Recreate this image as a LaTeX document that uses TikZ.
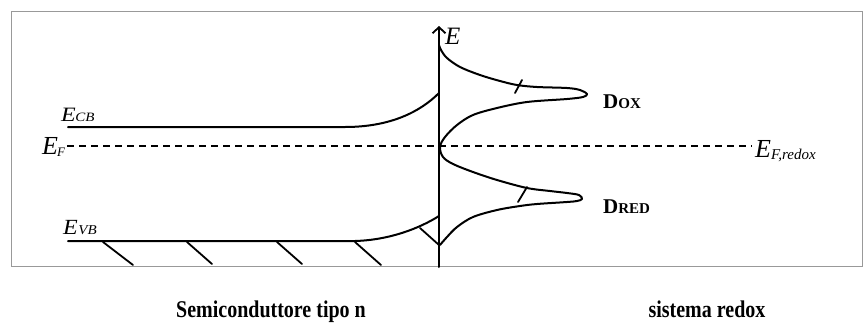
\documentclass[tikz,border=0pt]{standalone}
\usepackage{fontspec}
\usepackage{graphicx}
\setmainfont{Liberation Serif}
\usetikzlibrary{arrows.meta}
\begin{document}
\begin{tikzpicture}[x=1pt,y=-1pt,
  curve/.style={line width=2pt, line join=round, line cap=round},
  frame/.style={draw=black!40, line width=0.9pt},
  hatch/.style={line width=1.8pt, line cap=round},
  fermi/.style={line width=1.9pt, dash pattern=on 7pt off 5pt},
  lbl/.style={inner sep=0pt, anchor=base west},
  title/.style={inner sep=0pt, anchor=base},
  ]
\useasboundingbox (0,0) rectangle (863,322);
\draw[frame] (11,11) rectangle (862,266);

% energy axis
\coordinate (axB) at (439,267);
\coordinate (axT) at (439,26);
\draw[curve, -{Straight Barb[length=6pt,width=13pt,line width=1.8pt]}] (axB) -- (axT);
\node[lbl] (Eax) at (445,44) {\fontsize{25}{25}\selectfont\itshape E};

% conduction band
\coordinate (cbL) at (68,127);
\coordinate (cbK) at (345,127);
\coordinate (cbA) at (439,93);
\draw[curve] (cbL) -- (cbK) .. controls (390,127) and (420,112) .. (cbA);
\node[lbl] (ecb) at (61,121) {\scalebox{1}[0.85]{\fontsize{24}{24}\selectfont\itshape E\kern-0.5pt\raisebox{-1pt}{\fontsize{15}{15}\selectfont CB}}};

% valence band
\coordinate (vbL) at (68,241);
\coordinate (vbK) at (355,241);
\coordinate (vbA) at (439,216);
\draw[curve] (vbL) -- (vbK) .. controls (390,240) and (420,228) .. (vbA);
\node[lbl] (evb) at (63,234) {\scalebox{1}[0.9]{\fontsize{24}{24}\selectfont\itshape E\kern0.5pt\raisebox{-1pt}{\fontsize{15}{15}\selectfont VB}}};

% hatching below valence band
\coordinate (h1a) at (103,242); \coordinate (h1b) at (133,265);
\coordinate (h2a) at (187,242); \coordinate (h2b) at (212,264);
\coordinate (h3a) at (277,242); \coordinate (h3b) at (302,264);
\coordinate (h4a) at (355,242); \coordinate (h4b) at (381,265);
\coordinate (h5a) at (420,228); \coordinate (h5b) at (439,245);
\draw[hatch] (h1a) -- (h1b) (h2a) -- (h2b) (h3a) -- (h3b) (h4a) -- (h4b) (h5a) -- (h5b);

% Fermi level
\coordinate (fL) at (67,146);
\coordinate (fR) at (752,146);
\draw[fermi] (fL) -- (fR);
\node[lbl] (ef) at (42,154) {\fontsize{26}{26}\selectfont\itshape E\kern-1pt\raisebox{-2pt}{\fontsize{13}{13}\selectfont F}};
\node[lbl] (efr) at (755,157) {\fontsize{26}{26}\selectfont\itshape E\kern0pt\raisebox{-2pt}{\fontsize{15}{15}\selectfont F,redox}};

% redox distributions
\draw[curve] plot[smooth, tension=0.55] coordinates {
 (439,45) (441,50) (447,58) (460,67) (480,75) (500,81) (517,85) (537,87) (567,88)
 (580,90) (587,94) (583,97) (567,99) (527,102) (497,108) (473,115) (457,125)
 (445,137) (440,147) (443,157) (453,164) (473,172) (497,180) (527,188) (550,191)
 (567,193) (579,195) (582,199) (577,201) (567,202) (537,204) (520,206) (497,210)
 (473,217) (457,227) (447,237) (440,245)};
\coordinate (t1a) at (522,80); \coordinate (t1b) at (515,93);
\coordinate (t2a) at (527,187); \coordinate (t2b) at (518,202);
\draw[hatch] (t1a) -- (t1b) (t2a) -- (t2b);

\node[lbl] (dox) at (603,108) {\bfseries\fontsize{21}{21}\selectfont D\fontsize{15}{15}\selectfont OX};
\node[lbl] (dred) at (603,213) {\bfseries\fontsize{21}{21}\selectfont D\fontsize{15}{15}\selectfont RED};

% captions
\node[title] (sc) at (271,317) {\scalebox{1}[1.2]{\bfseries\fontsize{20}{20}\selectfont Semiconduttore tipo n}};
\node[title] (rx) at (707,317) {\scalebox{1}[1.2]{\bfseries\fontsize{20}{20}\selectfont sistema redox}};
\end{tikzpicture}
\end{document}
